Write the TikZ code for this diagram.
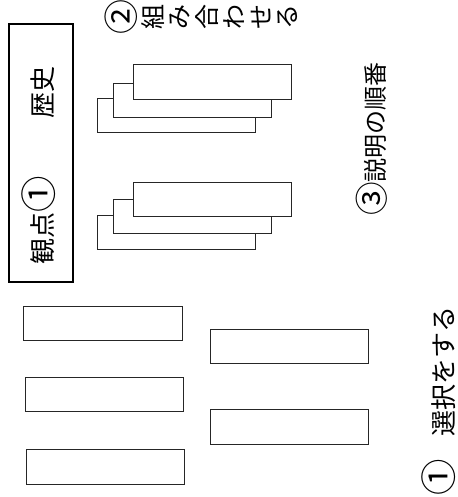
\documentclass[tikz,border=0pt]{standalone}
\usepackage{graphicx}
\usepackage{fontspec}
\newfontfamily\jp{Noto Sans CJK JP}
\newcommand{\cn}[1]{\vphantom{組}\raisebox{0.02em}[0pt][0pt]{\scalebox{1.4}{#1}}}
\begin{document}
\begin{tikzpicture}[x=1pt,y=-1pt,
  card/.style={draw=black!85, fill=white, line width=0.9pt, inner sep=0pt, minimum width=158pt, minimum height=34pt},
  lbl/.style={rotate=90, inner sep=0pt, font=\jp\fontsize{24}{24}\selectfont},
  ch/.style={rotate=90, inner sep=0pt, font=\jp\fontsize{25}{25}\selectfont},
  bigbox/.style={draw=black, line width=1.8pt, inner sep=0pt, minimum width=64pt, minimum height=258pt}]
\useasboundingbox (0,0) rectangle (457,497);
% big box
\node[bigbox] (view) at (41,153) {};
\node[lbl, font=\jp\fontsize{26}{26}\selectfont] (rekishi) at (43,92.5) {歴史};
\node[lbl, font=\jp\fontsize{26}{26}\selectfont] (kanten) at (43,220) {観点\cn{①}};
% group 1
\node[card] (g1c) at (176,115) {};
\node[card] (g1b) at (192,100) {};
\node[card, minimum height=35pt] (g1a) at (212,81.5) {};
% group 2
\node[card] (g2c) at (176,232) {};
\node[card] (g2b) at (192,216) {};
\node[card] (g2a) at (212,199) {};
% bottom boxes
\node[card, minimum width=159pt] (s1) at (102.5,323) {};
\node[card] (s2) at (104.5,394) {};
\node[card, minimum height=35pt] (s3) at (105,466.5) {};
\node[card] (s4) at (289,346) {};
\node[card, minimum height=35pt] (s5) at (289,426.5) {};
% (2) vertical text, rotated
\node[ch] (k1) at (126,17.5) {\cn{②}};
\node[ch] (k2) at (153,17.5) {組};
\node[ch] (k3) at (180,17.5) {み};
\node[ch] (k4) at (207,17.5) {合};
\node[ch] (k5) at (234,17.5) {わ};
\node[ch] (k6) at (261,17.5) {せ};
\node[ch] (k7) at (288,17.5) {る};
% (3)
\node[lbl] (order) at (375.5,139) {\cn{③}説明の順番};
% (1)
\node[lbl, font=\jp\fontsize{26}{26}\selectfont] (select) at (443.5,401) {\cn{①}\hspace{0.85em}選択をする};
\end{tikzpicture}
\end{document}
